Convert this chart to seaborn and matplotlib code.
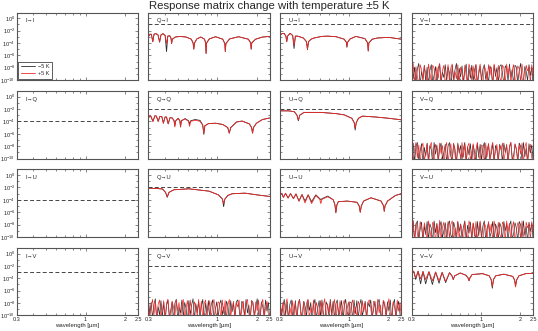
import numpy as np
import pandas as pd
import matplotlib
matplotlib.use("Agg")
import matplotlib.pyplot as plt
import matplotlib.ticker as mticker
from matplotlib.lines import Line2D
import seaborn as sns

stokes = ["I", "Q", "U", "V"]
temps = ["\u22125 K", "+5 K"]
temp_colors = {"\u22125 K": "#2b2b2b", "+5 K": "#f02828"}
xticks = [0.3, 1, 2, 2.5]
xticklabels = ["0.3", "1", "2", "2.5"]

# dashed reference level: per output row, and for the I column
ref_row = [1e-1, 1e-2, 1e-2, 1e-2]
ref_from_i = [None, 1e-4, 1e-4, 1e-3]

# smooth curves: (wavelength [um], log10 change at -5 K, log10 change at +5 K)
q_to_i = [
    (0.300, -3.0, -3.0), (0.308, -2.6, -2.6), (0.316, -2.6, -2.6), (0.324, -3.8, -3.8),
    (0.331, -2.6, -2.6), (0.342, -2.5, -2.5), (0.355, -2.7, -2.7), (0.365, -3.9, -3.8),
    (0.374, -2.7, -2.7), (0.387, -2.5, -2.5), (0.402, -2.8, -2.8), (0.412, -5.4, -4.1),
    (0.421, -2.9, -2.9), (0.436, -2.85, -2.85), (0.446, -3.3, -3.3), (0.450, -4.1, -4.1),
    (0.456, -3.4, -3.4), (0.480, -3.05, -3.05), (0.520, -2.95, -2.95), (0.580, -3.05, -3.05),
    (0.635, -3.4, -3.4), (0.655, -4.0, -4.0), (0.663, -5.0, -5.0), (0.672, -4.0, -4.0),
    (0.700, -3.35, -3.35), (0.750, -3.05, -3.05), (0.800, -3.4, -3.4), (0.815, -4.0, -4.0),
    (0.822, -5.7, -5.7), (0.830, -4.0, -4.0), (0.870, -3.35, -3.35), (0.970, -3.0, -3.0),
    (1.100, -3.4, -3.4), (1.140, -4.1, -4.1), (1.150, -5.4, -5.4), (1.162, -4.1, -4.1),
    (1.240, -3.35, -3.35), (1.450, -3.0, -3.0), (1.720, -3.4, -3.4), (1.790, -4.0, -4.0),
    (1.807, -5.0, -5.0), (1.825, -4.0, -4.0), (1.950, -3.4, -3.4), (2.200, -3.05, -3.05),
    (2.500, -2.95, -2.95),
]

u_to_i = [
    (0.300, -2.8, -2.8), (0.310, -2.5, -2.5), (0.322, -2.45, -2.45), (0.332, -2.9, -2.9),
    (0.337, -3.8, -3.8), (0.342, -2.9, -2.9), (0.357, -2.45, -2.45), (0.374, -2.8, -2.8),
    (0.383, -4.9, -4.4), (0.392, -2.9, -2.9), (0.407, -2.9, -2.9), (0.450, -3.2, -3.2),
    (0.476, -3.8, -3.8), (0.484, -5.1, -5.0), (0.493, -3.8, -3.8), (0.515, -3.4, -3.4),
    (0.544, -3.2, -3.2), (0.620, -2.95, -2.95), (0.690, -2.9, -2.9), (0.800, -3.0, -3.0),
    (0.920, -3.4, -3.4), (0.955, -3.9, -3.9), (0.964, -4.7, -4.6), (0.975, -3.9, -3.9),
    (1.020, -3.35, -3.35), (1.128, -2.95, -2.95), (1.320, -3.3, -3.3), (1.385, -4.0, -4.0),
    (1.399, -5.3, -5.3), (1.415, -4.0, -4.0), (1.500, -3.4, -3.4), (1.648, -3.2, -3.2),
    (2.000, -3.1, -3.1), (2.500, -3.4, -3.4),
]

q_to_q = [
    (0.300, -3.4, -3.4), (0.312, -3.1, -3.1), (0.325, -4.0, -4.0), (0.336, -3.1, -3.1),
    (0.345, -3.15, -3.15), (0.356, -4.0, -4.0), (0.367, -3.2, -3.2), (0.379, -3.2, -3.2),
    (0.390, -4.3, -4.3), (0.401, -3.3, -3.3), (0.412, -3.3, -3.3), (0.424, -4.4, -4.4),
    (0.438, -3.4, -3.4), (0.455, -3.45, -3.45), (0.470, -3.9, -3.9), (0.476, -4.7, -4.9),
    (0.484, -3.9, -3.9), (0.505, -3.5, -3.5), (0.520, -3.9, -3.9), (0.526, -4.9, -4.9),
    (0.534, -3.9, -3.9), (0.570, -3.55, -3.6), (0.605, -3.9, -4.0), (0.616, -4.4, -4.8),
    (0.628, -3.9, -4.0), (0.680, -3.7, -3.8), (0.740, -3.85, -4.0), (0.775, -4.6, -4.6),
    (0.790, -6.1, -5.9), (0.805, -4.7, -4.7), (0.860, -4.35, -4.35), (0.970, -4.3, -4.3),
    (1.100, -4.5, -4.5), (1.200, -5.0, -5.0), (1.233, -5.9, -5.9), (1.265, -5.0, -5.0),
    (1.400, -4.1, -4.1), (1.540, -3.95, -3.95), (1.750, -4.4, -4.4), (1.820, -5.0, -5.0),
    (1.851, -5.9, -5.9), (1.880, -5.0, -5.0), (1.980, -4.3, -4.3), (2.200, -3.7, -3.7),
    (2.500, -3.45, -3.45),
]

u_to_q = [
    (0.300, -2.3, -2.3), (0.350, -2.3, -2.3), (0.385, -2.45, -2.45), (0.403, -3.0, -3.0),
    (0.413, -3.9, -3.8), (0.423, -3.0, -3.0), (0.456, -2.55, -2.55), (0.611, -2.55, -2.55),
    (0.800, -2.75, -2.75), (0.920, -2.95, -2.95), (1.050, -3.5, -3.5), (1.095, -4.2, -4.2),
    (1.114, -5.4, -5.1), (1.135, -4.2, -4.2), (1.180, -3.5, -3.5), (1.265, -3.15, -3.15),
    (1.600, -3.3, -3.3), (2.000, -3.5, -3.5), (2.500, -3.75, -3.75),
]

q_to_u = [
    (0.300, -2.1, -2.1), (0.360, -2.2, -2.2), (0.384, -2.25, -2.25), (0.405, -2.8, -2.8),
    (0.417, -3.6, -3.5), (0.430, -2.8, -2.8), (0.467, -2.38, -2.38), (0.608, -2.22, -2.22),
    (0.866, -2.6, -2.6), (1.020, -3.2, -3.2), (1.095, -3.9, -3.9), (1.117, -5.1, -4.6),
    (1.140, -3.9, -3.9), (1.200, -3.3, -3.3), (1.295, -3.02, -3.02), (1.620, -2.92, -2.92),
    (2.000, -3.2, -3.2), (2.500, -3.46, -3.46),
]

u_to_u = [
    (0.300, -3.0, -3.0), (0.309, -2.95, -2.95), (0.318, -3.6, -3.6), (0.330, -2.95, -2.95),
    (0.345, -3.7, -3.7), (0.360, -3.0, -3.0), (0.379, -3.8, -3.8), (0.396, -3.05, -3.05),
    (0.4175, -4.2, -4.2), (0.440, -3.15, -3.15), (0.464, -4.2, -4.5), (0.490, -3.2, -3.2),
    (0.520, -4.3, -4.6), (0.560, -3.2, -3.3), (0.600, -3.8, -3.9), (0.611, -4.0, -4.6),
    (0.625, -3.8, -3.9), (0.690, -3.4, -3.5), (0.760, -4.0, -4.0), (0.782, -4.8, -4.8),
    (0.795, -6.1, -6.0), (0.810, -4.8, -4.8), (0.830, -4.3, -4.3), (0.970, -4.2, -4.2),
    (1.150, -4.4, -4.4), (1.195, -5.0, -5.0), (1.2175, -6.0, -6.0), (1.240, -5.0, -5.0),
    (1.290, -4.2, -4.2), (1.467, -3.67, -3.67), (1.750, -4.2, -4.2), (1.830, -5.0, -5.0),
    (1.851, -5.85, -5.85), (1.875, -5.0, -5.0), (1.960, -4.2, -4.2), (2.250, -3.3, -3.3),
    (2.500, -3.0, -3.0),
]

v_to_v = [
    (0.300, -3.1, -3.1), (0.310, -2.85, -2.85), (0.3216, -4.2, -3.9), (0.335, -2.85, -2.85),
    (0.350, -4.9, -4.1), (0.365, -2.9, -2.9), (0.382, -4.9, -4.2), (0.405, -2.95, -2.95),
    (0.430, -5.0, -4.4), (0.455, -3.0, -3.0), (0.483, -4.8, -4.4), (0.510, -3.05, -3.05),
    (0.542, -4.7, -4.5), (0.580, -3.1, -3.1), (0.605, -3.6, -3.6), (0.619, -4.2, -4.2),
    (0.635, -3.6, -3.6), (0.700, -3.15, -3.15), (0.770, -3.5, -3.5), (0.800, -3.9, -3.9),
    (0.815, -4.4, -4.4), (0.830, -3.9, -3.9), (0.860, -3.4, -3.4), (1.030, -3.25, -3.25),
    (1.160, -3.6, -3.6), (1.200, -4.2, -4.2), (1.225, -5.6, -5.3), (1.250, -4.2, -4.2),
    (1.300, -3.6, -3.6), (1.500, -3.34, -3.34), (1.750, -3.7, -3.7), (1.810, -4.3, -4.3),
    (1.838, -5.3, -5.4), (1.870, -4.3, -4.3), (1.950, -3.6, -3.6), (2.200, -3.25, -3.25),
    (2.500, -3.2, -3.2),
]

# noise-level curves (log10 change), sampled on a uniform log wavelength grid
noise_1 = [-7.4, -9.8, -7.9, -10.5, -8.2, -7.3, -10.8, -8.6, -9.9, -7.6, -10.2, -7.9, -11.0, -8.4, -7.5, -10.4,
           -9.2, -7.8, -10.9, -8.0, -7.4, -10.6, -8.7, -9.6, -7.5, -10.3, -7.9, -8.8, -11.0, -7.6, -9.9, -8.3,
           -7.3, -10.7, -8.1, -9.5, -7.7, -10.4, -8.5, -7.4, -11.0, -8.0, -9.7, -7.6, -10.2, -8.3, -7.5, -10.8,
           -9.0, -7.8, -10.3, -8.2, -7.5, -9.9, -8.6, -10.6, -7.7, -8.4, -10.9, -7.6, -9.4, -8.0, -10.5, -7.8,
           -7.5, -8.9, -10.7, -7.7, -8.1, -10.2, -7.4, -9.6, -8.3, -10.9, -7.6, -7.9, -10.4, -8.5, -7.3, -9.8,
           -10.6, -7.8, -8.6, -10.1, -7.5, -9.3, -7.9, -10.8]
noise_2 = [-8.1, -7.3, -10.6, -7.8, -9.4, -10.9, -7.5, -8.3, -10.1, -7.7, -9.0, -10.8, -7.4, -8.9, -10.3, -7.6,
           -8.1, -11.0, -7.9, -9.7, -7.3, -10.5, -8.4, -7.6, -10.9, -9.1, -7.5, -10.2, -8.0, -7.4, -10.7, -8.6,
           -9.8, -7.5, -10.4, -7.9, -8.8, -11.0, -7.6, -9.3, -10.6, -7.4, -8.2, -10.1, -7.7, -9.9, -7.5, -10.7,
           -8.5, -7.4, -9.6, -10.9, -7.8, -8.3, -10.4, -7.5, -9.2, -7.9, -10.8, -7.4, -8.7, -10.3, -7.6, -9.5,
           -10.2, -7.6, -8.0, -10.7, -7.4, -9.1, -7.8, -10.5, -8.4, -7.5, -10.9, -9.0, -7.7, -8.2, -10.3, -7.4,
           -9.6, -10.8, -7.6, -8.5, -7.9, -10.4, -7.5, -9.2]
noise_3 = [-9.5, -7.5, -10.7, -8.0, -7.4, -10.3, -8.8, -7.6, -11.0, -8.2, -9.6, -7.5, -10.5, -7.9, -8.6, -10.9,
           -7.4, -9.3, -7.8, -10.6, -8.3, -7.5, -10.1, -9.0, -7.7, -10.8, -8.0, -7.4, -9.7, -10.4, -7.6, -8.5,
           -10.9, -7.5, -9.1, -7.9, -10.2, -8.4, -7.4, -10.7, -8.1, -9.4, -7.6, -10.5, -7.8, -8.9, -11.0, -7.5,
           -9.8, -7.7, -10.3, -8.2, -7.4, -10.6, -8.7, -7.6, -10.0, -9.2, -7.5, -10.8, -7.9, -8.6, -10.4, -7.7,
           -8.4, -10.6, -7.5, -9.0, -7.8, -10.9, -8.2, -7.4, -10.3, -9.5, -7.7, -8.6, -10.7, -7.5, -8.0, -10.2,
           -7.4, -9.7, -8.3, -10.8, -7.6, -9.1, -7.8, -10.5]
noise_4 = [-7.7, -10.4, -8.5, -7.4, -9.9, -7.8, -10.8, -8.2, -7.5, -10.2, -9.3, -7.6, -10.9, -8.0, -7.4, -9.6,
           -10.5, -7.7, -8.6, -10.1, -7.5, -9.2, -7.9, -11.0, -8.3, -7.4, -10.6, -8.8, -7.6, -10.3, -7.5, -9.5,
           -10.9, -7.8, -8.4, -10.0, -7.4, -9.8, -7.7, -10.7, -8.1, -7.5, -10.4, -9.0, -7.6, -10.8, -8.5, -7.4,
           -9.4, -10.2, -7.8, -8.0, -10.9, -7.5, -9.7, -7.6, -10.5, -8.3, -7.4, -10.1, -8.9, -7.7, -10.6, -7.9,
           -8.6, -7.5, -10.3, -9.1, -7.7, -10.8, -8.0, -7.4, -9.7, -10.5, -7.6, -8.4, -10.1, -7.8, -9.3, -7.5,
           -10.9, -8.2, -7.4, -10.4, -8.8, -7.7, -9.9, -10.6]

smooth = {(0, 1): q_to_i, (0, 2): u_to_i, (1, 1): q_to_q, (1, 2): u_to_q,
          (2, 1): q_to_u, (2, 2): u_to_u, (3, 3): v_to_v}
noisy = {(0, 3): (noise_1, noise_2), (1, 3): (noise_3, noise_4), (2, 3): (noise_3, noise_2),
         (3, 1): (noise_1, noise_4), (3, 2): (noise_4, noise_1)}


def panel_frame(row, col):
    if (row, col) in smooth:
        rows = smooth[(row, col)]
        wl = [r[0] for r in rows]
        cold = [r[1] for r in rows]
        warm = [r[2] for r in rows]
    elif (row, col) in noisy:
        cold, warm = noisy[(row, col)]
        wl = np.geomspace(0.3, 2.5, len(cold))
    else:
        return None
    df = pd.DataFrame({
        "wavelength": np.concatenate([wl, wl]),
        "change": 10.0 ** np.concatenate([cold, warm]),
        "temp": [temps[0]] * len(wl) + [temps[1]] * len(wl),
    })
    return df


sns.set_theme(style="ticks")
plt.rcParams["font.family"] = ["Liberation Sans", "DejaVu Sans"]
plt.rcParams["axes.edgecolor"] = "#555555"
plt.rcParams["axes.linewidth"] = 0.8

fig, axes = plt.subplots(4, 4, figsize=(5.38, 3.31), dpi=100)
fig.subplots_adjust(left=0.031, right=0.991, top=0.962, bottom=0.047, wspace=0.085, hspace=0.162)

for row in range(4):
    for col in range(4):
        ax = axes[row, col]
        df = panel_frame(row, col)
        if df is not None:
            lw = 0.5 if (row, col) in noisy else 0.6
            sns.lineplot(data=df, x="wavelength", y="change", hue="temp", hue_order=temps,
                         palette=temp_colors, estimator=None, sort=False, lw=lw,
                         legend=False, ax=ax)
        ax.set_xscale("log")
        ax.set_yscale("log")
        ax.set_xlim(0.3, 2.5)
        ax.set_ylim(1e-10, 10 ** 0.9)

        level = ref_from_i[row] if col == 0 else ref_row[row]
        if level is not None:
            ax.axhline(level, color="#444444", lw=0.7, ls=(0, (4, 2.5)))

        ax.text(0.07, 0.88, f"{stokes[col]}\u2192{stokes[row]}", transform=ax.transAxes,
                fontsize=4.2, ha="left", va="center")

        ax.xaxis.set_major_locator(mticker.FixedLocator(xticks))
        ax.xaxis.set_major_formatter(mticker.FixedFormatter(xticklabels))
        ax.xaxis.set_minor_locator(mticker.LogLocator(base=10, subs=np.arange(2, 10)))
        ax.xaxis.set_minor_formatter(mticker.NullFormatter())
        ax.yaxis.set_major_locator(mticker.FixedLocator([10.0 ** e for e in range(0, -11, -2)]))
        ax.yaxis.set_minor_locator(mticker.FixedLocator([10.0 ** e for e in range(-1, -10, -2)]))
        ax.yaxis.set_minor_formatter(mticker.NullFormatter())
        ax.tick_params(which="both", direction="in", top=True, right=True,
                       labelsize=4.0, color="#555555", width=0.5, pad=1.2)
        ax.tick_params(which="major", length=2.5)
        ax.tick_params(which="minor", length=1.3)
        ax.set_xlabel("")
        ax.set_ylabel("")
        if col != 0:
            ax.tick_params(labelleft=False)
        if row != 3:
            ax.tick_params(labelbottom=False)
        else:
            ax.set_xlabel("wavelength [\u00b5m]", fontsize=4.3, labelpad=0.8)

handles = [Line2D([], [], color=temp_colors[t], lw=0.6) for t in temps]
axes[0, 0].legend(handles, temps, loc="lower left", fontsize=4.0, frameon=True, fancybox=False,
                  edgecolor="#444444", framealpha=1, handlelength=2.6, handletextpad=0.6,
                  borderpad=0.45, labelspacing=0.35, borderaxespad=0.25)
axes[0, 0].get_legend().get_frame().set_linewidth(0.6)

fig.suptitle("Response matrix change with temperature \u00b15 K", fontsize=8.2, y=0.983, va="center")

fig.savefig("out.png", dpi=100)
